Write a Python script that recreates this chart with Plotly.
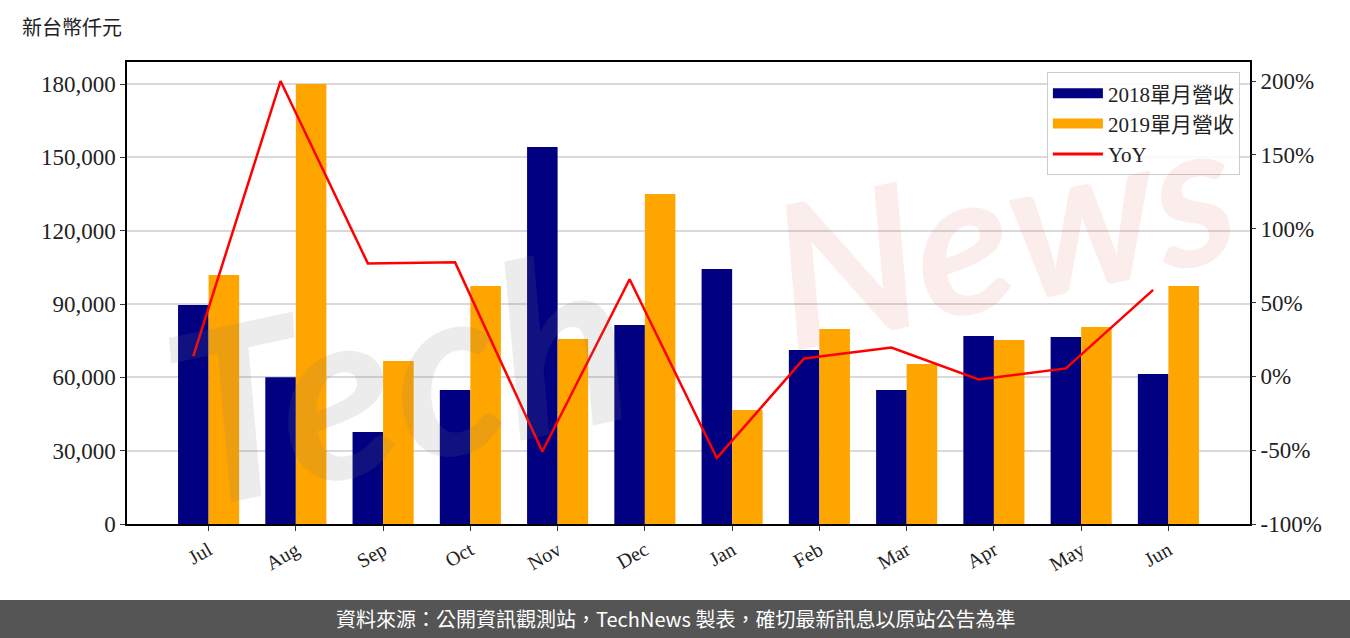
import plotly.graph_objects as go

months = ["Jul", "Aug", "Sep", "Oct", "Nov", "Dec", "Jan", "Feb", "Mar", "Apr", "May", "Jun"]
rev_2018 = [89600, 60000, 37600, 54800, 154200, 81400, 104300, 71200, 54800, 76900, 76500, 61400]
rev_2019 = [101900, 180000, 66700, 97400, 75700, 135000, 46600, 79800, 65500, 75300, 80600, 97400]
yoy = [13.7, 200.0, 76.5, 77.2, -50.9, 65.8, -55.3, 12.1, 19.5, -2.1, 5.4, 58.6]

left_ticks = [0, 30000, 60000, 90000, 120000, 150000, 180000]
right_ticks = [-100, -50, 0, 50, 100, 150, 200]

W = 0.35
idx = list(range(len(months)))
x18 = [i - W / 2 for i in idx]
x19 = [i + W / 2 for i in idx]

SERIF = "Liberation Serif, Noto Sans CJK TC, serif"
NAVY, ORANGE, RED = "#000080", "#FFA500", "#FF0000"

fig = go.Figure()
fig.add_trace(go.Bar(x=x18, y=rev_2018, width=W, name="2018單月營收", showlegend=False,
                     marker=dict(color=NAVY, line_width=0)))
fig.add_trace(go.Bar(x=x19, y=rev_2019, width=W, name="2019單月營收", showlegend=False,
                     marker=dict(color=ORANGE, line_width=0)))
fig.add_trace(go.Scatter(x=x18, y=yoy, name="YoY", mode="lines", yaxis="y2", showlegend=False,
                         line=dict(color=RED, width=2.5)))

# legend entries (wide swatches like the original)
for name, color, lw in [("2018單月營收", NAVY, 16), ("2019單月營收", ORANGE, 16), ("YoY", RED, 3)]:
    fig.add_trace(go.Scatter(x=[None], y=[None], mode="lines", name=name,
                             line=dict(color=color, width=lw)))

fig.update_layout(
    width=1350, height=638,
    barmode="overlay",
    plot_bgcolor="white", paper_bgcolor="white",
    margin=dict(l=127, r=100, t=62, b=114),
    font=dict(family=SERIF, size=23, color="#222222"),
    showlegend=True,
    legend=dict(x=0.991, y=0.978, xanchor="right", yanchor="top",
                bgcolor="rgba(255,255,255,0.85)", bordercolor="#cccccc", borderwidth=1,
                font=dict(size=21), itemwidth=50, tracegroupgap=0),
    xaxis=dict(range=[-0.935, 11.935], tickvals=idx, ticktext=months, tickangle=-30,
               showgrid=False, zeroline=False, showline=True, linecolor="black", linewidth=1.5,
               mirror=True, ticks="outside", ticklen=5, tickcolor="#333333",
               tickfont=dict(size=20)),
    yaxis=dict(range=[0, 189000], tickvals=left_ticks,
               ticktext=[f"{v:,}" for v in left_ticks],
               showgrid=True, gridcolor="#d9d9d9", gridwidth=1.5, zeroline=False,
               showline=True, linecolor="black", linewidth=1.5, mirror=True,
               ticks="outside", ticklen=5, tickcolor="#333333"),
    yaxis2=dict(range=[-100, 212.9], tickvals=right_ticks,
                ticktext=[f"{v}%" for v in right_ticks],
                overlaying="y", side="right", showgrid=False, zeroline=False,
                ticks="outside", ticklen=5, tickcolor="#333333"),
)

# watermark
fig.add_annotation(x=0.24, y=0.33, xref="paper", yref="paper", text="Tech",
                   showarrow=False, textangle=-12, xanchor="center", yanchor="middle",
                   font=dict(family="Lato", size=240, weight="bold", style="italic",
                             color="rgba(120,120,120,0.14)"))
fig.add_annotation(x=0.78, y=0.64, xref="paper", yref="paper", text="News",
                   showarrow=False, textangle=-12, xanchor="center", yanchor="middle",
                   font=dict(family="Lato", size=200, weight="bold", style="italic",
                             color="rgba(230,90,90,0.11)"))

# unit label
fig.add_annotation(x=-0.0953, y=1.0758, xref="paper", yref="paper", text="新台幣仟元",
                   showarrow=False, xanchor="left", yanchor="middle",
                   font=dict(family="Noto Sans CJK TC", size=20, color="#222222"))

# footer band
fig.add_shape(type="rect", xref="paper", yref="paper", x0=-0.12, x1=1.1,
              y0=-0.26, y1=-0.1645, fillcolor="#555555", line_width=0, layer="above")
fig.add_annotation(x=0.488, y=-0.2056, xref="paper", yref="paper",
                   text="資料來源：公開資訊觀測站，TechNews 製表，確切最新訊息以原站公告為準",
                   showarrow=False, xanchor="center", yanchor="middle",
                   font=dict(family="Noto Sans CJK TC", size=20, color="white"))

fig.write_html("out.html", config={"displayModeBar": False},
               post_script="document.body.style.margin='0';")
